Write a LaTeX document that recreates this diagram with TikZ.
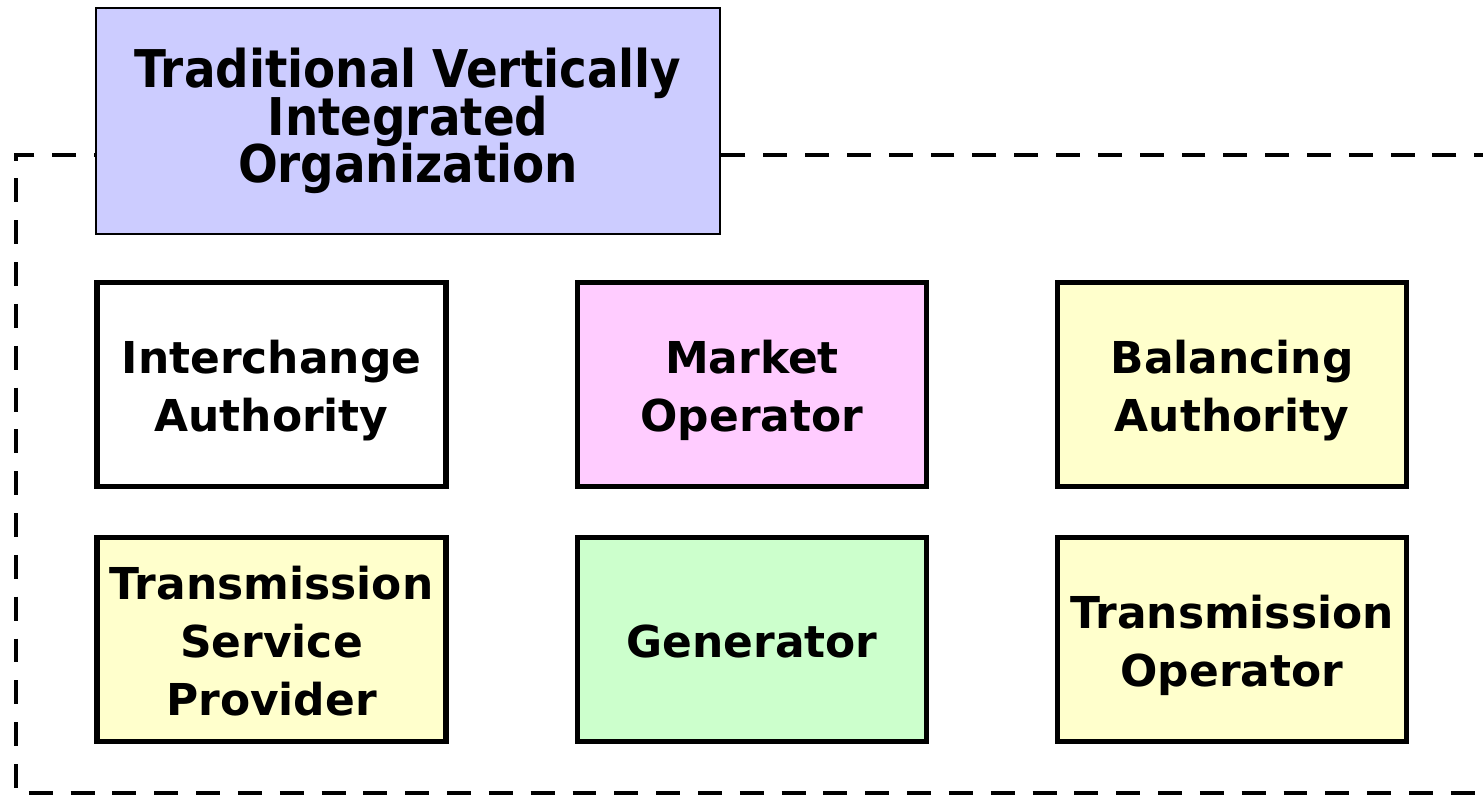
\documentclass[tikz,border=0pt]{standalone}
\usepackage{fontspec}
\setmainfont{DejaVu Sans}
\newfontfamily\titlefont{DejaVu Sans Condensed}
\usepackage{tikz}
\usetikzlibrary{positioning}

\definecolor{titleblue}{HTML}{CCCCFF}
\definecolor{mopink}{HTML}{FFCCFF}
\definecolor{tspyellow}{HTML}{FFFFCC}
\definecolor{gengreen}{HTML}{CCFFCC}

% fixed line heights so every box centres its text the same way
\newcommand\rolestrut{\rule[-3pt]{0pt}{16.5pt}}
\newcommand\orgstrut{\rule[-2.2pt]{0pt}{13.5pt}}
\newcommand\tightlines{\setlength{\lineskiplimit}{-100pt}\setlength{\lineskip}{0pt}}

\tikzset{
  rolebox/.style={draw, line width=1.5pt, minimum width=3.49cm, minimum height=2.04cm,
    align=center, inner sep=0pt,
    font=\fontsize{12.5}{16.5}\selectfont\bfseries\tightlines},
  orgbox/.style={draw, line width=0.4pt, fill=titleblue, minimum width=6.24cm, minimum height=2.26cm,
    align=center, inner sep=0pt,
    font=\titlefont\fontsize{14.8}{13.5}\selectfont\bfseries\tightlines},
  orgline/.style={line width=1.3pt, dash pattern=on 6.8pt off 5.1pt}
}

\begin{document}
\begin{tikzpicture}
\useasboundingbox (0,0) rectangle (14.83,-7.96);
\clip (0,0) rectangle (14.83,-7.96);

% Organization boundary
\draw[orgline] (15.4,-1.55) -- (0.16,-1.55) -- (0.16,-7.93) -- (15.4,-7.93);

% Title
\node[orgbox] (org) at (4.08,-1.21)
  {Traditional Vertically\orgstrut\\Integrated\orgstrut\\Organization\orgstrut};

% Top row
\node[rolebox] (ia) at (2.715,-3.845) {Interchange\rolestrut\\Authority\rolestrut};
\node[rolebox, fill=mopink] (mo) at (7.52,-3.845) {Market\rolestrut\\Operator\rolestrut};
\node[rolebox, fill=tspyellow] (ba) at (12.32,-3.845) {Balancing\rolestrut\\Authority\rolestrut};

% Bottom row
\node[rolebox, fill=tspyellow] (tsp) at (2.715,-6.395)
  {Transmission\rolestrut\\Service\rolestrut\\Provider\rolestrut};
\node[rolebox, fill=gengreen] (gen) at (7.52,-6.395) {Generator\rolestrut};
\node[rolebox, fill=tspyellow] (top) at (12.32,-6.395) {Transmission\rolestrut\\Operator\rolestrut};
\end{tikzpicture}
\end{document}
